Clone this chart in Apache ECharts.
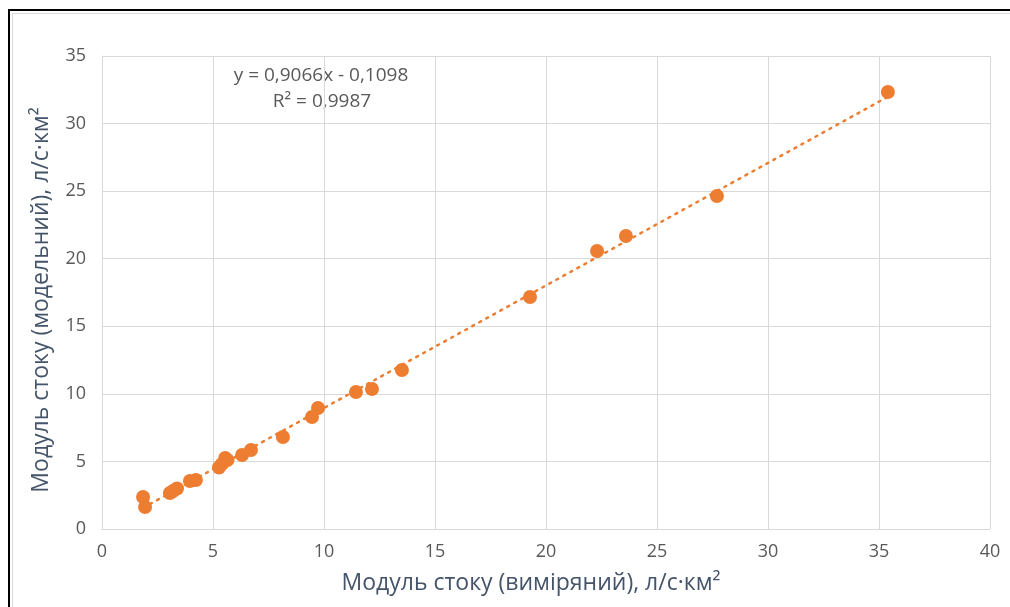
<!DOCTYPE html>
<html>
<head>
<meta charset="utf-8">
<script src="https://cdn.jsdelivr.net/npm/echarts@6/dist/echarts.min.js"></script>
<style>
html,body{margin:0;padding:0;background:#fff;}
#wrap{position:relative;width:1010px;height:607px;overflow:hidden;}
#frame{position:absolute;left:8px;top:9px;width:1100px;height:700px;border-left:2px solid #000;border-top:2px solid #000;}
#inner{position:absolute;left:12px;top:13px;width:1100px;height:700px;border-left:1px solid #d9d9d9;border-top:1px solid #d9d9d9;}
#chart{position:absolute;left:0;top:0;width:1010px;height:607px;}
</style>
</head>
<body>
<div id="wrap">
<div id="frame"></div>
<div id="inner"></div>
<div id="chart"></div>
</div>
<script>
// measured vs modelled runoff modulus
const measured = [1.85, 1.94, 3.06, 3.2, 3.38, 3.96, 4.23, 5.27, 5.4, 5.55, 5.65, 6.31, 6.71, 8.15, 9.46, 9.73, 11.44, 12.16, 13.51, 19.28, 22.3, 23.6, 27.7, 35.4];
const modelled = [2.37, 1.63, 2.66, 2.81, 3.0, 3.55, 3.63, 4.55, 4.8, 5.25, 5.1, 5.48, 5.85, 6.81, 8.29, 8.95, 10.14, 10.36, 11.77, 17.17, 20.57, 21.68, 24.64, 32.34];
const slope = 0.9066;
const intercept = -0.1098;
const xTicks = [0, 5, 10, 15, 20, 25, 30, 35, 40];
const yTicks = [0, 5, 10, 15, 20, 25, 30, 35];
const eqText = 'y = 0,9066x - 0,1098';
const r2Text = 'R² = 0,9987';
const xTitle = 'Модуль стоку (виміряний), л/с·км²';
const yTitle = 'Модуль стоку (модельний), л/с·км²';

const pts = measured.map((x, i) => [x, modelled[i]]);
const xMin = Math.min(...measured), xMax = Math.max(...measured);
const trend = [[xMin, slope * xMin + intercept], [xMax, slope * xMax + intercept]];

const chart = echarts.init(document.getElementById('chart'), null, {renderer: 'canvas'});
const font = '"Open Sans", "Noto Sans", sans-serif';
chart.setOption({
  animation: false,
  grid: {left: 102, right: 20, top: 56, bottom: 78, containLabel: false},
  xAxis: {
    type: 'value', min: xTicks[0], max: xTicks[xTicks.length - 1], interval: 5,
    axisLine: {show: true, lineStyle: {color: '#d9d9d9', width: 1}},
    axisTick: {show: false},
    splitLine: {show: true, lineStyle: {color: '#d9d9d9', width: 1}},
    axisLabel: {color: '#595959', fontSize: 18, fontFamily: font, margin: 14}
  },
  yAxis: {
    type: 'value', min: yTicks[0], max: yTicks[yTicks.length - 1], interval: 5,
    axisLine: {show: true, lineStyle: {color: '#d9d9d9', width: 1}},
    axisTick: {show: false},
    splitLine: {show: true, lineStyle: {color: '#d9d9d9', width: 1}},
    axisLabel: {color: '#595959', fontSize: 18, fontFamily: font, margin: 16}
  },
  series: [
    {
      type: 'line', data: trend, symbol: 'none', silent: true,
      lineStyle: {color: '#ED7D31', width: 2.5, type: [2, 6], cap: 'round'}, z: 1
    },
    {
      type: 'scatter', data: pts, symbol: 'circle', symbolSize: 14,
      itemStyle: {color: '#ED7D31', opacity: 1}, z: 2
    }
  ],
  graphic: [
    {type: 'text', x: 321, y: 76, style: {text: eqText, fill: '#595959', font: '19px ' + font, align: 'center', verticalAlign: 'middle'}},
    {type: 'text', x: 322, y: 102, style: {text: r2Text, fill: '#595959', font: '19px ' + font, align: 'center', verticalAlign: 'middle'}},
    {type: 'text', x: 531, y: 583, style: {text: xTitle, fill: '#44546A', font: '23px ' + font, align: 'center', verticalAlign: 'middle'}},
    {type: 'text', x: 41, y: 300, rotation: Math.PI / 2, style: {text: yTitle, fill: '#44546A', font: '23px ' + font, align: 'center', verticalAlign: 'middle'}}
  ]
});
</script>
</body>
</html>
